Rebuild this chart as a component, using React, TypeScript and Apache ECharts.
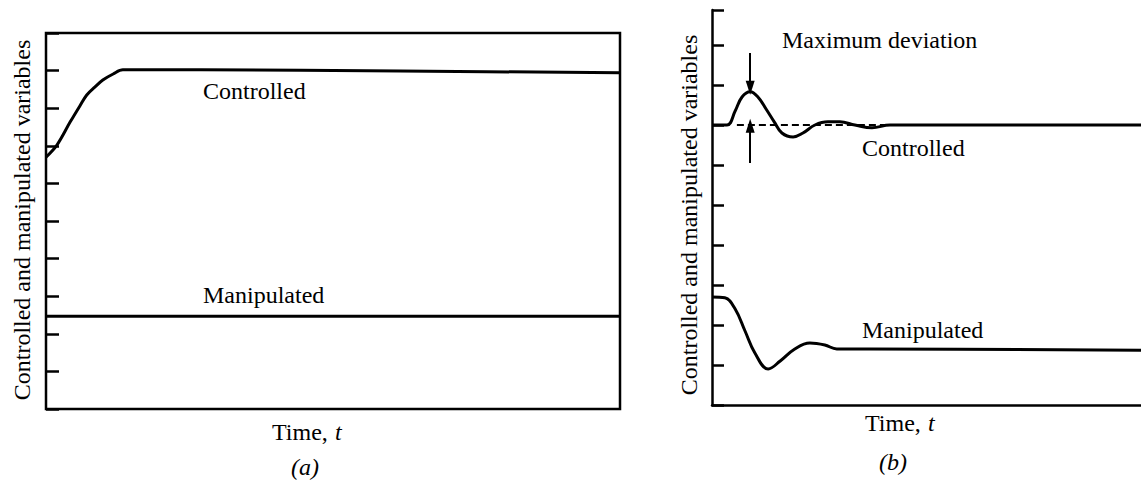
import React, { useEffect, useRef } from "react";
import * as echarts from "echarts";

// Panel (a)
const timeA = [0, 1.9, 4.2, 5.9, 7.1, 8.5, 9.9, 11.7, 13.4, 27, 61.7, 100];
const controlledA = [6.7, 7.02, 7.63, 8.06, 8.35, 8.56, 8.75, 8.91, 9.02, 9.02, 8.99, 8.94];
const timeManA = [0, 100];
const manipulatedA = [2.47, 2.47];

// Panel (b)
const timeB = [0, 3.5, 5.4, 7.0, 8.9, 10.7, 12.6, 14.5, 16.3, 18.9, 21.2, 24, 27, 29.8, 33.3, 37.3, 41.5, 100];
const controlledB = [7.0, 7.0, 7.35, 7.7, 7.83, 7.7, 7.4, 7.08, 6.8, 6.7, 6.8, 7.0, 7.08, 7.08, 7.0, 6.93, 7.0, 7.0];
const timeManB = [0, 3.0, 5.4, 7.7, 10, 13.1, 15.9, 19.3, 22.8, 26.3, 29.1, 36.8, 100];
const manipulatedB = [2.7, 2.68, 2.4, 1.85, 1.3, 0.9, 1.1, 1.4, 1.55, 1.5, 1.4, 1.4, 1.37];
const setPointX = [5.8, 100];
const setPointY = [7, 7];
// Maximum deviation arrows: [x, from, to]
const arrowDown = [8.9, 8.8, 7.93];
const arrowUp = [8.9, 6.05, 6.98];

const FONT = '"Liberation Serif", "Times New Roman", serif';
const zip = (xs: number[], ys: number[]) => xs.map((x, i) => [x, ys[i]]);

export default function App() {
  const ref = useRef<HTMLDivElement>(null);
  useEffect(() => {
    document.body.style.margin = "0";
    const chart = echarts.init(ref.current!, null, { renderer: "svg" });
    const st = (text: string, extra: any = {}) => ({
      text,
      fontFamily: FONT,
      fontSize: 24,
      fill: "#000",
      textAlign: "left",
      textVerticalAlign: "middle",
      ...extra,
    });
    const txt = (text: string, x: number, y: number, extra: any = {}) => ({ type: "text", x, y, style: st(text, extra) });
    const line = { color: "#000", width: 3 };
    const timeLabel = (x: number, y: number) => ({
      type: "group", x, y, children: [
        { type: "text", x: -35, y: 0, style: st("Time,") },
        { type: "text", x: 28, y: 0, style: st("t", { fontStyle: "italic" }) },
      ],
    });
    chart.setOption({
      animation: false,
      backgroundColor: "#fff",
      grid: [
        { left: 46, top: 33, width: 574, height: 376, show: true, borderColor: "#000", borderWidth: 2.5, backgroundColor: "transparent" },
        { left: 712, top: 10, right: 0, height: 395 },
      ],
      xAxis: [
        { gridIndex: 0, type: "value", min: 0, max: 100, axisLine: { show: false }, axisTick: { show: false }, axisLabel: { show: false }, splitLine: { show: false } },
        { gridIndex: 1, type: "value", min: 0, max: 100, axisLine: { show: true, lineStyle: { color: "#000", width: 2.5 } }, axisTick: { show: false }, axisLabel: { show: false }, splitLine: { show: false } },
      ],
      yAxis: [
        { gridIndex: 0, type: "value", min: 0, max: 10, interval: 1, axisLine: { show: false }, axisTick: { show: true, inside: true, length: 13, lineStyle: { color: "#000", width: 2.5 } }, axisLabel: { show: false }, splitLine: { show: false } },
        { gridIndex: 1, type: "value", min: 0, max: 9.875, interval: 1, axisLine: { show: true, lineStyle: { color: "#000", width: 2.5 } }, axisTick: { show: true, inside: true, length: 12, lineStyle: { color: "#000", width: 2.5 } }, axisLabel: { show: false }, splitLine: { show: false } },
      ],
      series: [
        { type: "line", xAxisIndex: 0, yAxisIndex: 0, data: zip(timeA, controlledA), smooth: 0.35, symbol: "none", lineStyle: line },
        { type: "line", xAxisIndex: 0, yAxisIndex: 0, data: zip(timeManA, manipulatedA), symbol: "none", lineStyle: line },
        { type: "line", xAxisIndex: 1, yAxisIndex: 1, data: zip(setPointX, setPointY), symbol: "none", z: 1, lineStyle: { color: "#000", width: 2, type: [7, 4] } },
        {
          type: "line", xAxisIndex: 1, yAxisIndex: 1, data: zip(timeB, controlledB), smooth: 0.4, symbol: "none", z: 3, lineStyle: line,
          markLine: {
            silent: true,
            symbol: ["none", "triangle"],
            symbolSize: [9, 14],
            label: { show: false },
            lineStyle: { color: "#000", width: 2, type: "solid" },
            data: [
              [{ coord: [arrowDown[0], arrowDown[1]] }, { coord: [arrowDown[0], arrowDown[2]] }],
              [{ coord: [arrowUp[0], arrowUp[1]] }, { coord: [arrowUp[0], arrowUp[2]] }],
            ],
          },
        },
        { type: "line", xAxisIndex: 1, yAxisIndex: 1, data: zip(timeManB, manipulatedB), smooth: 0.4, symbol: "none", lineStyle: line },
      ],
      graphic: [
        txt("Controlled", 203, 91),
        txt("Manipulated", 203, 295),
        txt("Maximum deviation", 782, 40),
        txt("Controlled", 862, 148),
        txt("Manipulated", 862, 330),
        { type: "text", x: 22, y: 220, rotation: Math.PI / 2, style: st("Controlled and manipulated variables", { textAlign: "center" }) },
        { type: "text", x: 689, y: 215, rotation: Math.PI / 2, style: st("Controlled and manipulated variables", { textAlign: "center" }) },
        timeLabel(307, 432),
        timeLabel(900, 423),
        { type: "text", x: 305, y: 467, style: st("(a)", { fontStyle: "italic", textAlign: "center" }) },
        { type: "text", x: 893, y: 462, style: st("(b)", { fontStyle: "italic", textAlign: "center" }) },
      ],
    });
    return () => chart.dispose();
  }, []);
  return <div ref={ref} style={{ width: 1141, height: 483 }} />;
}
